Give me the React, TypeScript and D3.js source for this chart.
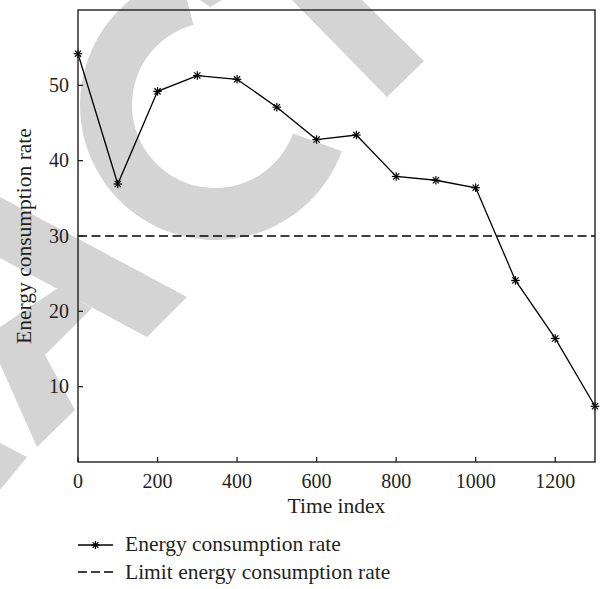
import React from 'react';
import * as d3 from 'd3';

// data
const timeIndex = [0, 100, 200, 300, 400, 500, 600, 700, 800, 900, 1000, 1100, 1200, 1300];
const energyRate = [54.2, 36.9, 49.2, 51.3, 50.8, 47.1, 42.8, 43.4, 37.9, 37.4, 36.4, 24.1, 16.4, 7.4];
const limitRate = 30;
const xTicks = [0, 200, 400, 600, 800, 1000, 1200];
const yTicks = [10, 20, 30, 40, 50];
const legendLabels = ['Energy consumption rate', 'Limit energy consumption rate'];

const W = 602;
const H = 589;
const m = { left: 78, right: 595, top: 10, bottom: 462 };
const ink = '#231f20';
const font = '"Liberation Serif", "Times New Roman", serif';

const Star = ({ x, y, r = 4.3 }: { x: number; y: number; r?: number }) => {
  const d = r * 0.72;
  return (
    <g stroke="#000" strokeWidth={1.2}>
      <line x1={x - r} y1={y} x2={x + r} y2={y} />
      <line x1={x} y1={y - r} x2={x} y2={y + r} />
      <line x1={x - d} y1={y - d} x2={x + d} y2={y + d} />
      <line x1={x - d} y1={y + d} x2={x + d} y2={y - d} />
    </g>
  );
};

// the grey watermark behind the plot
const Watermark = () => {
  const arc = d3
    .arc()
    .innerRadius(83)
    .outerRadius(135)
    .startAngle((110 * Math.PI) / 180)
    .endAngle((345 * Math.PI) / 180);
  const fill = '#d4d4d4';
  return (
    <g fill={fill}>
      <path d={arc({} as any) || ''} transform="translate(215,105)" />
      <polygon points="292,0 362,0 424,61 387,97" />
      <polygon points="200,0 222,0 210,7" />
      <polygon points="0,197 187,297 147,337 0,258" />
      <polygon points="0,327 58,288 92,308 45,355 75,410 37,447 0,364" />
      <polygon points="0,443 27,457 0,490" />
    </g>
  );
};

export default function App() {
  const x = d3.scaleLinear().domain([0, 1300]).range([m.left, m.right]);
  const y = d3.scaleLinear().domain([0, 60]).range([m.bottom, m.top]);

  const line = d3
    .line<number>()
    .x((_, i) => x(timeIndex[i]))
    .y((d) => y(d));

  return (
    <svg
      width={W}
      height={H}
      style={{ position: 'absolute', left: 0, top: 0, background: '#fff' }}
      fontFamily={font}
    >
      <rect width={W} height={H} fill="#fff" />
      <Watermark />

      {/* limit line */}
      <line
        x1={x(0)}
        x2={x(1300)}
        y1={y(limitRate)}
        y2={y(limitRate)}
        stroke="#000"
        strokeWidth={1.3}
        strokeDasharray="9,4.5"
      />

      {/* series */}
      <path d={line(energyRate) || ''} fill="none" stroke="#000" strokeWidth={1.3} />
      {energyRate.map((v, i) => (
        <Star key={i} x={x(timeIndex[i])} y={y(v)} />
      ))}

      {/* frame */}
      <rect
        x={m.left}
        y={m.top}
        width={m.right - m.left}
        height={m.bottom - m.top}
        fill="none"
        stroke={ink}
        strokeWidth={1.4}
      />

      {/* x axis */}
      {xTicks.map((t) => (
        <g key={t}>
          <line x1={x(t)} x2={x(t)} y1={m.bottom} y2={m.bottom - 5} stroke={ink} strokeWidth={1.3} />
          <text x={x(t)} y={488} textAnchor="middle" fontSize={20} fill={ink}>
            {t}
          </text>
        </g>
      ))}
      <text x={(m.left + m.right) / 2} y={513} textAnchor="middle" fontSize={21.5} fill={ink}>
        Time index
      </text>

      {/* y axis */}
      {yTicks.map((t) => (
        <g key={t}>
          <line x1={m.left} x2={m.left + 5} y1={y(t)} y2={y(t)} stroke={ink} strokeWidth={1.3} />
          <text x={69} y={y(t)} dy="0.34em" textAnchor="end" fontSize={20} fill={ink}>
            {t}
          </text>
        </g>
      ))}
      <text
        transform={`translate(31,${(m.top + m.bottom) / 2}) rotate(-90)`}
        textAnchor="middle"
        fontSize={21.5}
        fill={ink}
      >
        Energy consumption rate
      </text>

      {/* legend */}
      <g>
        <line x1={78} x2={113} y1={545} y2={545} stroke="#000" strokeWidth={1.3} />
        <Star x={95.5} y={545} r={4} />
        <text x={125} y={551} fontSize={21.5} fill={ink}>
          {legendLabels[0]}
        </text>
        <line
          x1={78}
          x2={113}
          y1={572}
          y2={572}
          stroke="#000"
          strokeWidth={1.3}
          strokeDasharray="9,4"
        />
        <text x={125} y={579} fontSize={21.5} fill={ink}>
          {legendLabels[1]}
        </text>
      </g>
    </svg>
  );
}
